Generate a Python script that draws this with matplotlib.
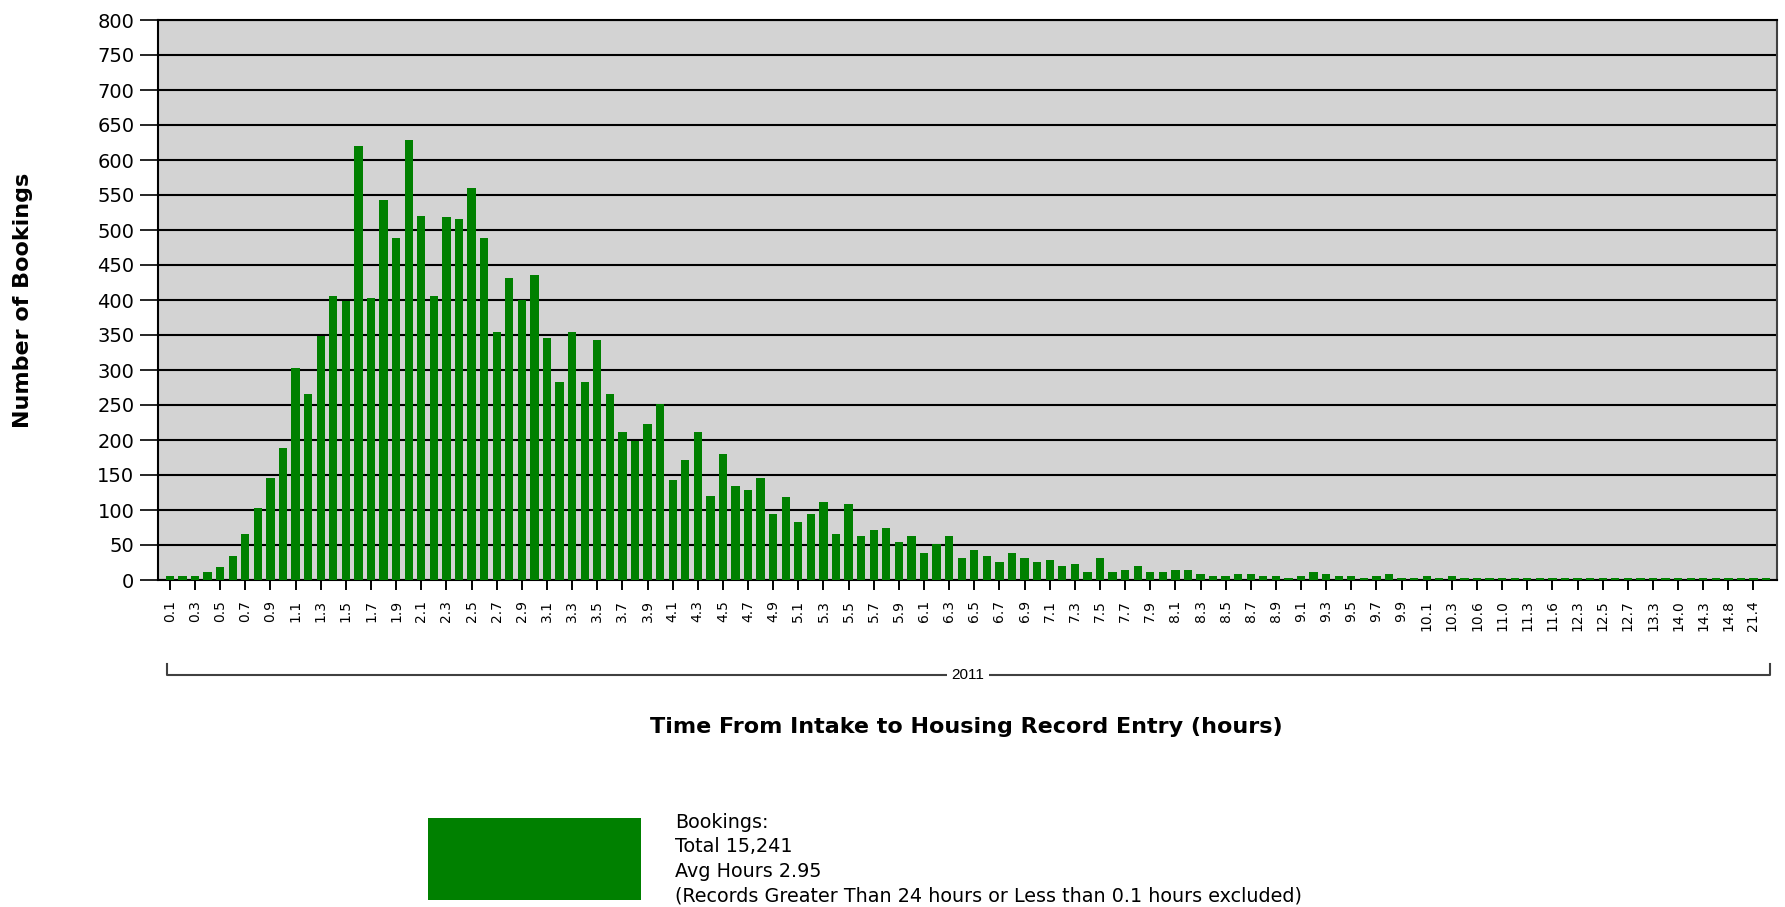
import matplotlib
matplotlib.use("Agg")
import matplotlib.pyplot as plt
from matplotlib.lines import Line2D
from matplotlib.patches import Rectangle

# ---- data ----
categories = [f"{v/10:.1f}" for v in range(1, 101)] + [
    "10.1", "10.2", "10.3", "10.4", "10.6", "10.8", "11.0", "11.1", "11.3", "11.4",
    "11.6", "11.9", "12.3", "12.4", "12.5", "12.6", "12.7", "13.0", "13.3", "13.6",
    "14.0", "14.1", "14.3", "14.5", "14.8", "15.2", "21.4", "22.1"]

bookings = [
    6, 6, 6, 12, 18, 35, 66, 103, 146, 189,
    303, 266, 349, 406, 399, 620, 403, 543, 489, 629,
    520, 406, 518, 515, 560, 489, 355, 432, 400, 435,
    346, 283, 355, 283, 343, 266, 212, 198, 223, 252,
    143, 172, 212, 120, 180, 135, 129, 146, 95, 118,
    83, 95, 112, 66, 109, 63, 72, 75, 55, 63,
    38, 52, 63, 32, 43, 35, 26, 38, 32, 26,
    29, 20, 23, 12, 32, 12, 15, 20, 12, 12,
    15, 15, 9, 6, 6, 9, 9, 6, 6, 3,
    6, 12, 9, 6, 6, 3, 6, 9, 3, 3,
    6, 3, 6, 3, 3, 3, 3, 3, 3, 3,
    3, 3, 3, 3, 3, 3, 3, 3, 3, 3,
    3, 3, 3, 3, 3, 3, 3, 3]

y_ticks = list(range(0, 801, 50))
x_label = "Time From Intake to Housing Record Entry (hours)"
y_label = "Number of Bookings"
group_label = "2011"
legend_lines = ["Bookings:", "Total 15,241", "Avg Hours 2.95",
                "(Records Greater Than 24 hours or Less than 0.1 hours excluded)"]

# ---- figure ----
W, H = 1785, 907
plt.rcParams['font.family'] = ['DejaVu Sans']
fig = plt.figure(figsize=(W / 100, H / 100), dpi=100)

def fx(px):
    return px / W

def fy(py):
    return 1 - py / H

left, right, top, bottom = 158, 1777, 20, 580
ax = fig.add_axes([fx(left), fy(bottom), fx(right) - fx(left), fy(top) - fy(bottom)])
ax.set_facecolor("#d3d3d3")

xs = list(range(len(bookings)))
ax.bar(xs, bookings, width=0.66, color="#008000", edgecolor="none", zorder=3)

ax.set_xlim(-0.95, len(bookings) - 1 + 0.87)
ax.set_ylim(0, 800)
ax.set_yticks(y_ticks)
ax.set_yticklabels([str(v) for v in y_ticks], fontsize=14)
ax.yaxis.grid(True, color="black", linewidth=1.5, zorder=1)
ax.set_axisbelow(True)
ax.tick_params(axis="y", direction="out", length=13, width=1.2, pad=4, colors="black")

tick_pos = xs[::2]
ax.set_xticks(tick_pos)
ax.set_xticklabels([categories[i] for i in tick_pos], rotation=90, fontsize=10)
ax.tick_params(axis="x", direction="out", length=7.5, width=1.4, pad=7)

for s in ["left", "bottom", "top"]:
    ax.spines[s].set_color("black")
    ax.spines[s].set_linewidth(1.5)
ax.spines["right"].set_color("#404040")
ax.spines["right"].set_linewidth(1.5)

# y label
fig.text(fx(23), fy(300), y_label, rotation=90, ha="center", va="center",
         fontsize=16, fontweight="bold")

# group bracket
lc = "#404040"
yb = 675
fig.add_artist(Line2D([fx(167), fx(167), fx(1770), fx(1770)],
                      [fy(664), fy(yb), fy(yb), fy(664)], color=lc, linewidth=1.5))
fig.text(fx(968), fy(yb), group_label, ha="center", va="center", fontsize=11,
         family=['Liberation Sans'],
         bbox=dict(facecolor="white", edgecolor="none", pad=3))

# x label
fig.text(fx(966), fy(727), x_label, ha="center", va="center", fontsize=16,
         fontweight="bold")

# legend
fig.add_artist(Rectangle((fx(428), fy(900)), fx(641) - fx(428), fy(818) - fy(900),
                         facecolor="#008000", edgecolor="none", transform=fig.transFigure))
for i, line in enumerate(legend_lines):
    fig.text(fx(675), fy(822 + 24.6 * i), line, ha="left", va="center", fontsize=13.8)

fig.savefig("out.png", dpi=100, facecolor="white")
